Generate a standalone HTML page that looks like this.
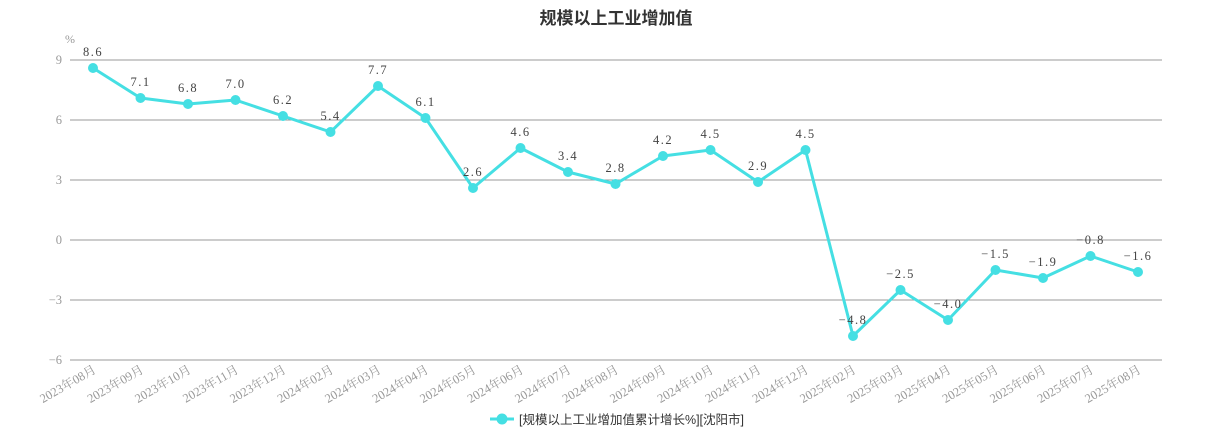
<!DOCTYPE html>
<html><head><meta charset="utf-8"><style>
body{margin:0;background:#fff;}
svg{display:block;}
</style></head><body>
<svg id="c" width="1232" height="440" xmlns="http://www.w3.org/2000/svg">
<text x="616" y="24" text-anchor="middle" font-family="'Liberation Sans','Noto Sans CJK SC',sans-serif" font-size="17" font-weight="bold" fill="#333">规模以上工业增加值</text>
<text x="70" y="43" text-anchor="middle" font-family="'Liberation Serif','Noto Serif CJK SC',serif" font-size="12" fill="#999">%</text>
</svg>
<script>
var s=document.getElementById('c'),ns='http://www.w3.org/2000/svg';
function el(t,a,txt){var e=document.createElementNS(ns,t);for(var k in a)e.setAttribute(k,a[k]);if(txt!=null)e.textContent=txt;s.appendChild(e);return e;}
var F="'Liberation Serif','Noto Serif CJK SC',serif";
function Y(v){return 240-v*20;}
[9,6,3,0,-3,-6].forEach(function(v){
 el('line',{x1:70,x2:1162,y1:Y(v),y2:Y(v),stroke:'#999','stroke-width':1});
 el('text',{x:62,y:Y(v)+4,'text-anchor':'end','font-family':F,'font-size':12.5,fill:'#999'},v<0?'−'+(-v):v);
});
var d=[8.6,7.1,6.8,7.0,6.2,5.4,7.7,6.1,2.6,4.6,3.4,2.8,4.2,4.5,2.9,4.5,-4.8,-2.5,-4.0,-1.5,-1.9,-0.8,-1.6];
var L=['2023年08月','2023年09月','2023年10月','2023年11月','2023年12月','2024年02月','2024年03月','2024年04月','2024年05月','2024年06月','2024年07月','2024年08月','2024年09月','2024年10月','2024年11月','2024年12月','2025年02月','2025年03月','2025年04月','2025年05月','2025年06月','2025年07月','2025年08月'];
function X(i){return 93+i*47.5;}
var p=d.map(function(v,i){return X(i)+','+Y(v);}).join(' ');
el('polyline',{points:p,fill:'none',stroke:'#45dfe3','stroke-width':3,'stroke-linejoin':'round'});
d.forEach(function(v,i){
 el('circle',{cx:X(i),cy:Y(v),r:5,fill:'#45dfe3'});
 el('text',{x:X(i),y:Y(v)-12,'text-anchor':'middle','font-family':F,'font-size':12.5,'letter-spacing':'1.5',fill:'#444'},(v<0?'−':'')+Math.abs(v).toFixed(1));
 el('text',{x:0,y:0,'text-anchor':'end','font-family':F,'font-size':12.5,fill:'#999',transform:'translate('+(X(i)+4)+',372) rotate(-30)'},L[i]);
});
el('line',{x1:490,x2:514,y1:419,y2:419,stroke:'#45dfe3','stroke-width':3});
el('circle',{cx:502,cy:419,r:5.5,fill:'#45dfe3'});
el('text',{x:519,y:424,'font-family':"'Liberation Sans','Noto Sans CJK SC',sans-serif",'font-size':12.5,fill:'#333'},'[规模以上工业增加值累计增长%][沈阳市]');
</script>
</body></html>
